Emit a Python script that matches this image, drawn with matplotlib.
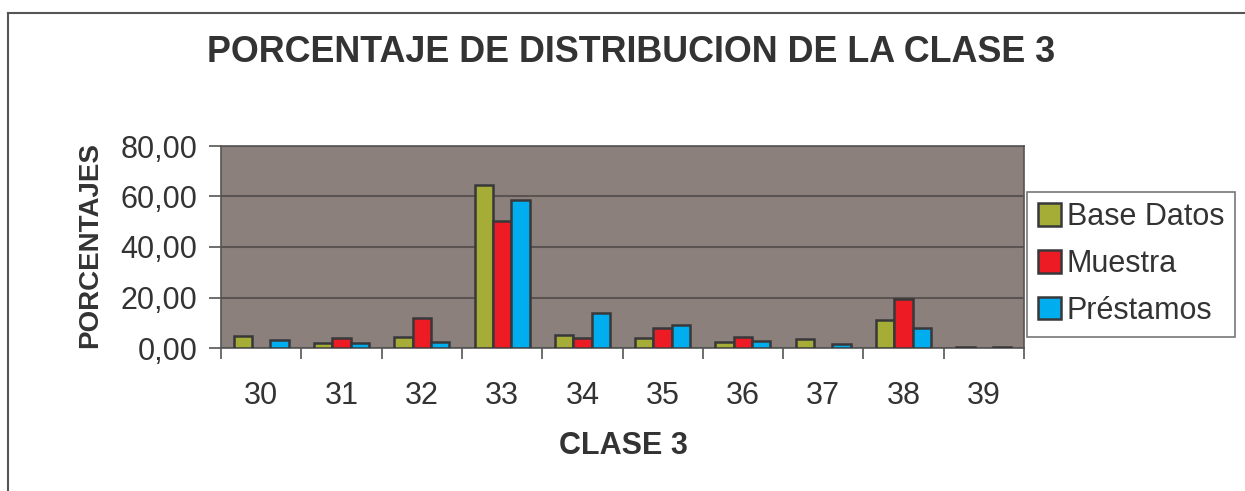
import matplotlib
matplotlib.use('Agg')
import matplotlib.pyplot as plt
from matplotlib.lines import Line2D
import numpy as np

plt.rcParams['font.family'] = ['Liberation Sans', 'DejaVu Sans']

# data
clases = ['30', '31', '32', '33', '34', '35', '36', '37', '38', '39']
base_datos = [4.8, 2.0, 4.2, 64.6, 5.2, 3.9, 2.2, 3.4, 11.2, 0.3]
muestra = [0.0, 4.0, 11.8, 50.1, 4.0, 7.8, 4.2, 0.0, 19.6, 0.0]
prestamos = [3.3, 2.0, 2.3, 58.7, 13.9, 9.3, 2.8, 1.7, 7.8, 0.3]
series_names = ['Base Datos', 'Muestra', 'Préstamos']
colores = ['#A6AD37', '#ED1C24', '#00AEEF']

txt = '#333333'
edge = '#38383a'

fig = plt.figure(figsize=(12.45, 4.91), dpi=100)
ax = fig.add_axes([221/1245, 1-348/491, 803/1245, 202/491])
ax.set_facecolor('#8C807C')

x = np.arange(len(clases))
w = 0.228
for i, (vals, col) in enumerate(zip([base_datos, muestra, prestamos], colores)):
    lws = [1.8 if v > 0 else 0 for v in vals]
    ax.bar(x + (i - 1) * w, vals, width=w, color=col, edgecolor=edge,
           linewidth=lws, zorder=3)

ax.set_xlim(-0.5, len(clases) - 0.5)
ax.set_ylim(0, 80)
yt = [0, 20, 40, 60, 80]
ax.set_yticks(yt)
ax.set_yticklabels([('%.2f' % v).replace('.', ',') for v in yt])
ax.yaxis.grid(True, color='#5a5352', linewidth=1.5, zorder=1)

ax.set_xticks(x)
ax.set_xticklabels(clases)
ax.set_xticks(np.arange(-0.5, len(clases)), minor=True)
ax.tick_params(axis='x', which='major', length=0, pad=24, labelsize=22, labelcolor=txt)
ax.tick_params(axis='x', which='minor', length=8, color='#555555', width=1.2, direction='out')
ax.tick_params(axis='y', length=9, color='#555555', width=1.2, pad=8, labelsize=22, labelcolor=txt)

for s in ax.spines.values():
    s.set_color('#555555')
    s.set_linewidth(1.2)

fig.text(631/1245, 1-53/491, 'PORCENTAJE DE DISTRIBUCION DE LA CLASE 3', ha='center', va='center',
         fontsize=25.8, fontweight='bold', color=txt)
fig.text(90/1245, 1-245/491, 'PORCENTAJES', rotation=90, ha='center', va='center',
         fontsize=20, fontweight='bold', color=txt)
fig.text(623/1245, 1-446/491, 'CLASE 3', ha='center', va='center',
         fontsize=22, fontweight='bold', color=txt)

handles = [plt.Rectangle((0, 0), 1, 1, facecolor=c, edgecolor=edge, linewidth=1.8) for c in colores]
leg = fig.legend(handles, series_names, loc='center left', bbox_to_anchor=(1027/1245, 1-264/491),
                 fontsize=22, frameon=True, fancybox=False, handlelength=0.75, handleheight=0.75,
                 handletextpad=0.2, labelspacing=0.55, borderpad=0.35, borderaxespad=0)
leg.get_frame().set_edgecolor('#555555')
leg.get_frame().set_linewidth(1.2)
for t in leg.get_texts():
    t.set_color(txt)

# outer chart border (left and top visible)
fig.add_artist(Line2D([8/1245, 8/1245], [0, 1-13/491], color='#555555', linewidth=1.5))
fig.add_artist(Line2D([8/1245, 1], [1-13/491, 1-13/491], color='#555555', linewidth=1.5))

fig.savefig('out.png', dpi=100)
